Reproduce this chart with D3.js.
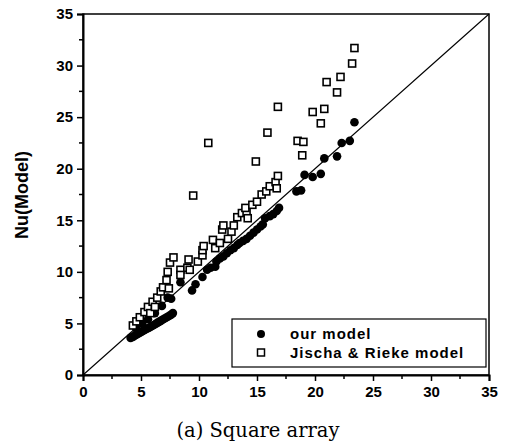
<!DOCTYPE html>
<html><head><meta charset="utf-8">
<script src="https://cdn.jsdelivr.net/npm/d3@7"></script>
<style>body{margin:0;background:#fff}svg{display:block}</style>
</head><body>
<script>
const xTicks=[0,5,10,15,20,25,30,35];
const yTicks=[0,5,10,15,20,25,30,35];
const ourModel=[
[4.1,3.6],[4.3,3.7],[4.45,3.8],[4.6,3.9],[4.75,4.0],[4.9,4.1],[5.05,4.2],[5.2,4.3],[5.35,4.4],[5.5,4.5],[5.65,4.55],[5.8,4.65],[5.95,4.75],[6.1,4.85],[6.25,4.95],[6.4,5.05],[6.55,5.15],[6.7,5.25],[6.85,5.35],[7.0,5.45],[7.15,5.55],[7.3,5.65],[7.45,5.75],[7.6,5.85],[7.75,6.0],
[4.6,4.5],[5.1,5.0],[5.6,5.4],[6.2,6.0],[6.8,6.7],[7.3,7.5],[7.6,7.4],[8.4,9.0],[9.4,8.2],[9.7,8.8],[10.3,9.5],[10.7,10.2],[11.0,10.4],[11.4,10.5],[11.5,11.0],[11.8,11.3],[12.1,11.5],[12.4,11.8],[12.7,12.1],[13.0,12.3],[13.3,12.6],[13.5,12.8],[13.8,13.0],[14.1,13.2],[14.4,13.5],[14.7,13.8],[15.0,14.1],[15.3,14.4],[15.5,14.6],[15.7,15.2],[16.1,15.4],[16.4,15.6],[16.7,15.9],[16.9,16.2],
[18.4,17.8],[18.8,17.9],[19.1,19.4],[19.8,19.2],[20.5,19.5],[20.8,21.0],[21.9,21.2],[22.3,22.5],[23.0,22.7],[23.4,24.5]
];
const jischaRieke=[
[4.3,4.8],[4.6,5.2],[4.9,5.6],[5.3,6.1],[5.6,6.6],[6.0,7.1],[6.4,7.5],[6.7,8.1],[6.9,8.5],[7.2,9.2],[7.3,10.0],[7.5,10.9],[7.8,11.4],[7.4,8.4],[5.8,6.0],[6.2,6.6],
[8.4,10.2],[8.4,9.7],[9.0,10.4],[9.1,11.2],[9.2,10.2],[9.9,11.0],[10.3,11.6],[10.3,12.1],[10.4,12.5],[11.2,13.1],[11.4,12.3],[11.8,12.8],[12.0,14.1],[12.1,14.5],[12.5,13.2],[12.8,13.9],[13.0,14.5],[13.3,15.3],[13.7,15.7],[14.1,15.8],[14.2,15.2],[14.0,16.2],[14.6,16.5],[15.0,16.8],[15.4,17.5],[15.8,17.8],[16.1,18.3],[16.6,18.7],[16.7,18.1],[16.8,19.3],
[9.5,17.4],[10.8,22.5],[14.9,20.7],[15.9,23.5],[16.8,26.0],[18.5,22.7],[19.0,22.6],[18.9,21.3],[19.8,25.5],[20.5,24.4],[20.8,25.8],[21.0,28.4],[21.9,27.4],[22.2,28.9],[23.2,30.2],[23.4,31.7]
];
const legendLabels=["our model","Jischa & Rieke model"];
const yLabel="Nu(Model)";
const caption="(a) Square array";

const W=507,H=445;
const svg=d3.select("body").append("svg").attr("width",W).attr("height",H);
const x=d3.scaleLinear().domain([0,35]).range([83,489]);
const y=d3.scaleLinear().domain([0,35]).range([375,14]);
const font="'Liberation Sans',Arial,sans-serif";

svg.append("rect").attr("x",x(0)).attr("y",y(35)).attr("width",x(35)-x(0)).attr("height",y(0)-y(35))
  .attr("fill","none").attr("stroke","#000").attr("stroke-width",1.5);

svg.append("line").attr("x1",x(0)).attr("y1",y(0)).attr("x2",x(35)).attr("y2",y(35)).attr("stroke","#000").attr("stroke-width",1.1);

const minor=d3.range(2.5,35,5);
const gx=svg.append("g").attr("transform",`translate(0,${y(0)})`);
gx.call(d3.axisBottom(x).tickValues(xTicks).tickSize(6).tickPadding(4).tickFormat(d3.format("d")));
gx.selectAll(".minor").data(minor).enter().append("line").attr("class","minor")
  .attr("x1",d=>x(d)).attr("x2",d=>x(d)).attr("y1",0).attr("y2",4).attr("stroke","#000").attr("stroke-width",1.5);
const gy=svg.append("g").attr("transform",`translate(${x(0)},0)`);
gy.call(d3.axisLeft(y).tickValues(yTicks).tickSize(6).tickPadding(4).tickFormat(d3.format("d")));
gy.selectAll(".minor").data(minor).enter().append("line").attr("class","minor")
  .attr("y1",d=>y(d)).attr("y2",d=>y(d)).attr("x1",0).attr("x2",-4).attr("stroke","#000").attr("stroke-width",1.5);
[gx,gy].forEach(g=>{
  g.select(".domain").attr("stroke","#000").attr("stroke-width",2);
  g.selectAll(".tick line").attr("stroke","#000").attr("stroke-width",1.5);
  g.selectAll(".tick text").attr("font-family",font).attr("font-weight","bold").attr("font-size",15).attr("fill","#000");
});
gx.selectAll(".tick text").attr("dy","0.8em");

svg.append("g").selectAll("circle").data(ourModel).enter().append("circle")
  .attr("cx",d=>x(d[0])).attr("cy",d=>y(d[1])).attr("r",4.3).attr("fill","#000");
svg.append("g").selectAll("rect").data(jischaRieke).enter().append("rect")
  .attr("x",d=>x(d[0])-3.5).attr("y",d=>y(d[1])-3.5).attr("width",7).attr("height",7)
  .attr("fill","#fff").attr("stroke","#000").attr("stroke-width",1.6);

const lg=svg.append("g");
lg.append("rect").attr("x",232).attr("y",319).attr("width",254).attr("height",48).attr("fill","#fff").attr("stroke","#000").attr("stroke-width",1.2);
lg.append("circle").attr("cx",261).attr("cy",334).attr("r",4).attr("fill","#000");
lg.append("rect").attr("x",257.5).attr("y",349).attr("width",7).attr("height",7).attr("fill","#fff").attr("stroke","#000").attr("stroke-width",1.5);
lg.selectAll("text").data(legendLabels).enter().append("text")
  .attr("x",290).attr("y",(d,i)=>334+i*19).attr("dy","0.35em")
  .attr("font-family",font).attr("font-weight","bold").attr("font-size",15).attr("letter-spacing",1).text(d=>d);

svg.append("text").attr("transform",`translate(22,195) rotate(-90)`).attr("text-anchor","middle").attr("dy","0.35em")
  .attr("font-family",font).attr("font-weight","bold").attr("font-size",18).text(yLabel);
svg.append("text").attr("x",258).attr("y",437).attr("text-anchor","middle")
  .attr("font-family","'DejaVu Serif',serif").attr("font-size",19.5).text(caption);
</script>
</body></html>
